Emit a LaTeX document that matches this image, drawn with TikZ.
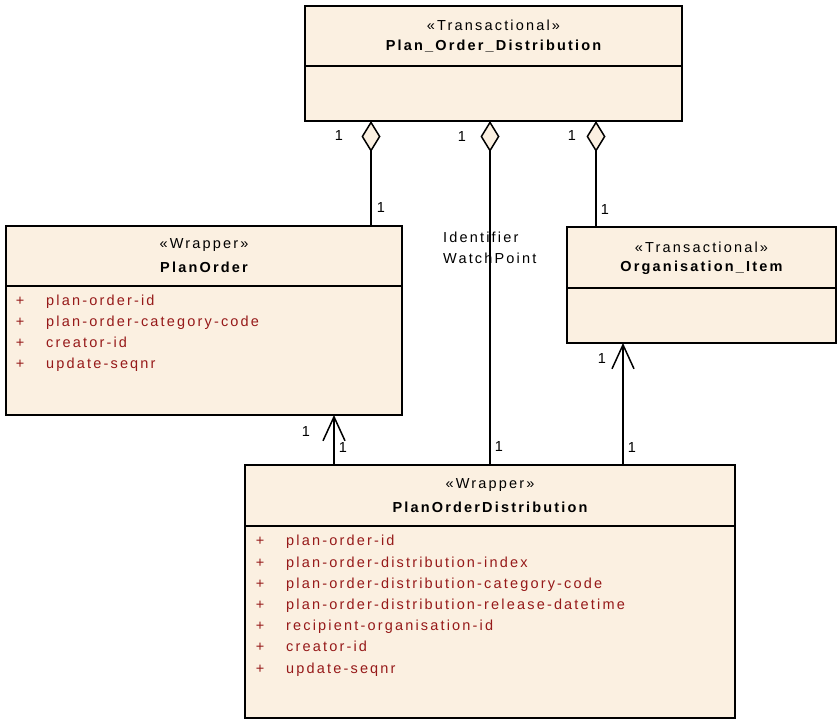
\documentclass[tikz,border=0pt]{standalone}
\usepackage{fontspec}
\setmainfont{Liberation Sans}
\newfontfamily\umlfont[LetterSpace=15]{Liberation Sans}
\usetikzlibrary{arrows.meta}
\definecolor{beige}{RGB}{251,240,225}
\definecolor{attr}{RGB}{150,25,25}
\tikzset{
  cls/.style={draw, fill=beige, line width=1.5pt, anchor=north west, inner sep=0pt, outer sep=0pt},
  stereo/.style={font=\umlfont\fontsize{14.5}{17}\selectfont, inner sep=0pt},
  cname/.style={font=\umlfont\fontsize{14.5}{17}\selectfont\bfseries, inner sep=0pt},
  plus/.style={font=\umlfont\fontsize{14.5}{17}\selectfont, text=attr, inner sep=0pt, anchor=mid},
  att/.style={font=\umlfont\fontsize{14.5}{17}\selectfont, text=attr, inner sep=0pt, anchor=mid west},
  mult/.style={font=\umlfont\fontsize{14.5}{17}\selectfont, inner sep=0pt},
  conn/.style={line width=1.5pt},
  agg/.style={conn, {Diamond[length=31pt,width=19pt,fill=beige]}-},
  nav/.style={conn, -{Straight Barb[length=24pt,width=22pt]}},
  divider/.style={line width=1.5pt}
}
\begin{document}
\begin{tikzpicture}[x=1pt,y=-1pt]
\useasboundingbox (0,0) rectangle (837,720);

% Plan_Order_Distribution
\node[cls, minimum width=377pt, minimum height=115pt] (pod) at (305,6) {};
\draw[divider] (pod.west |- 0,66) -- (pod.east |- 0,66);
\node[stereo] (podS) at (493.5,25) {«Transactional»};
\node[cname] (podN) at (493.5,46) {Plan\_Order\_Distribution};

% PlanOrder
\node[cls, minimum width=396pt, minimum height=189pt] (po) at (6,226) {};
\draw[divider] (po.west |- 0,286) -- (po.east |- 0,286);
\node[stereo] (poS) at (204,245) {«Wrapper»};
\node[cname] (poN) at (204,267) {PlanOrder};
\foreach \t [count=\i] in {plan-order-id, plan-order-category-code, creator-id, update-seqnr}{
  \node[plus] (pop\i) at (20,{281.5+21.2*\i}) {+};
  \node[att] (poa\i) at (46,{281.5+21.2*\i}) {\t};
}

% Organisation_Item
\node[cls, minimum width=269pt, minimum height=116pt] (oi) at (567,227) {};
\draw[divider] (oi.west |- 0,288) -- (oi.east |- 0,288);
\node[stereo] (oiS) at (701.5,247) {«Transactional»};
\node[cname] (oiN) at (701.5,268) {Organisation\_Item};

% PlanOrderDistribution
\node[cls, minimum width=490pt, minimum height=253pt] (pd) at (245,465) {};
\draw[divider] (pd.west |- 0,526) -- (pd.east |- 0,526);
\node[stereo] (pdS) at (490,485) {«Wrapper»};
\node[cname] (pdN) at (490,507) {PlanOrderDistribution};
\foreach \t [count=\i] in {plan-order-id, plan-order-distribution-index, plan-order-distribution-category-code, plan-order-distribution-release-datetime, recipient-organisation-id, creator-id, update-seqnr}{
  \node[plus] (pdp\i) at (260,{522+21.2*\i}) {+};
  \node[att] (pda\i) at (286,{522+21.2*\i}) {\t};
}

% aggregations
\draw[agg] ([xshift=66pt]pod.south west) -- ([xshift=365pt]po.north west);
\draw[agg] ([xshift=185pt]pod.south west) -- (pd.north);
\draw[agg] ([xshift=291pt]pod.south west) -- ([xshift=29pt]oi.north west);

% navigable associations
\draw[nav] ([xshift=89pt]pd.north west) -- ([xshift=328pt]po.south west);
\draw[nav] ([xshift=378pt]pd.north west) -- ([xshift=56pt]oi.south west);

% multiplicities
\node[mult] (m1) at (339,136) {1};
\node[mult] (m2) at (381,208) {1};
\node[mult] (m3) at (462,137) {1};
\node[mult] (m4) at (499,447) {1};
\node[mult] (m5) at (572,136) {1};
\node[mult] (m6) at (605,210) {1};
\node[mult] (m7) at (306,432) {1};
\node[mult] (m8) at (343,448) {1};
\node[mult] (m9) at (602,359) {1};
\node[mult] (m10) at (632,448) {1};

% role name
\node[stereo, align=left, anchor=west, font=\umlfont\fontsize{14.5}{21}\selectfont] (role) at (443,247.5) {Identifier\\WatchPoint};
\end{tikzpicture}
\end{document}
